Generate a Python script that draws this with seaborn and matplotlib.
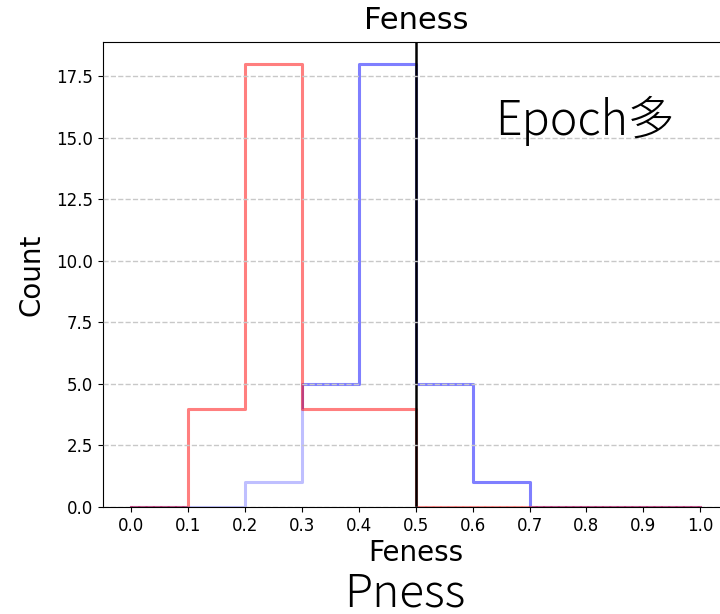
import numpy as np
import pandas as pd
import matplotlib
matplotlib.use("Agg")
import matplotlib.pyplot as plt
import seaborn as sns

# data
bin_edges = [0.0, 0.1, 0.2, 0.3, 0.4, 0.5, 0.6, 0.7, 0.8, 0.9, 1.0]
bin_centers = [0.05, 0.15, 0.25, 0.35, 0.45, 0.55, 0.65, 0.75, 0.85, 0.95]
red_counts = [0, 4, 18, 4, 4, 0, 0, 0, 0, 0]
blue_counts = [0, 0, 1, 5, 18, 5, 1, 0, 0, 0]
xticks = [0.0, 0.1, 0.2, 0.3, 0.4, 0.5, 0.6, 0.7, 0.8, 0.9, 1.0]
threshold = 0.5
title_text = "Feness"
xlabel_text = "Feness"
ylabel_text = "Count"
inner_text = "Epoch多"
bottom_text = "Pness"

df_red = pd.DataFrame({"x": bin_centers, "w": red_counts})
df_blue = pd.DataFrame({"x": bin_centers, "w": blue_counts})

fig = plt.figure(figsize=(7.2, 6.14), dpi=100)
ax = fig.add_axes([0.143, 0.1743, 0.869, 0.7573])

sns.histplot(data=df_blue, x="x", weights="w", bins=bin_edges, element="step",
             fill=False, color="blue", alpha=0.5, linewidth=2.2, ax=ax, zorder=2.0)
sns.histplot(data=df_red, x="x", weights="w", bins=bin_edges, element="step",
             fill=True, color="white", alpha=0.5, linewidth=0, ax=ax, zorder=2.05)
sns.histplot(data=df_red, x="x", weights="w", bins=bin_edges, element="step",
             fill=False, color="red", alpha=0.5, linewidth=2.2, ax=ax, zorder=2.1)

ax.axvline(threshold, color="black", linewidth=1.8, zorder=2.2)

ax.set_xlim(-0.05, 1.05)
ax.set_ylim(0, 18.9)
ax.set_xticks(xticks)
ax.set_xticklabels([f"{t:.1f}" for t in xticks])
ax.tick_params(labelsize=12)
ax.grid(axis="y", linestyle="--", color="#c8c8c8", linewidth=1.0, zorder=2.5)
ax.set_axisbelow(False)

ax.set_title(title_text, fontsize=22, family="DejaVu Sans", pad=9)
ax.set_xlabel(xlabel_text, fontsize=20, labelpad=3)
ax.set_ylabel(ylabel_text, fontsize=20, labelpad=8)

ax.text(0.77, 0.83, inner_text, transform=ax.transAxes, ha="center", va="center",
        fontsize=33.5, fontweight="light", family=["Noto Sans CJK JP", "DejaVu Sans"])
fig.text(0.562, 0.012, bottom_text, ha="center", va="baseline",
         fontsize=33, fontweight="light", family=["Noto Sans CJK JP", "DejaVu Sans"])

fig.savefig("out.png", dpi=100)
